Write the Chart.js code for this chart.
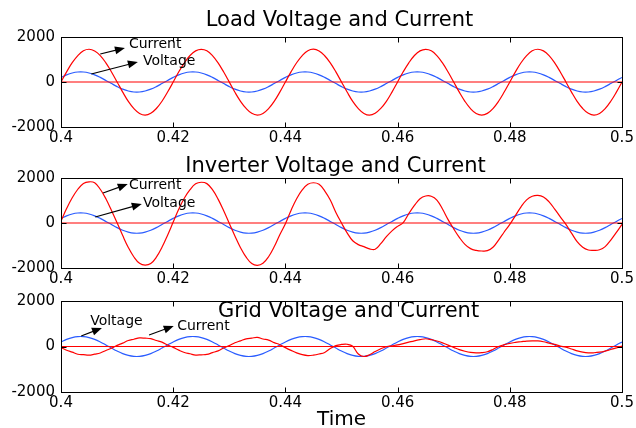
<!DOCTYPE html>
<html>
<head>
<meta charset="utf-8">
<script src="https://cdn.jsdelivr.net/npm/chart.js@4.4.1/dist/chart.umd.min.js"></script>
<style>
  body { margin: 0; background: #fff; overflow: hidden; }
  canvas { position: absolute; left: 0; }
</style>
</head>
<body>
<canvas id="load" width="636" height="150" style="top:0px"></canvas>
<canvas id="inverter" width="636" height="142" style="top:150px"></canvas>
<canvas id="grid" width="636" height="136" style="top:292px"></canvas>
<script>
// sample times, 1 ms apart from 0.4 s to 0.5 s
var time = [];
for (var i = 0; i <= 100; i++) time.push(+(0.4 + i * 0.001).toFixed(3));

var xTicks = [0.4, 0.42, 0.44, 0.46, 0.48, 0.5];
var yTicks = [-2000, 0, 2000];
var zeroTimes = [0.4, 0.5];
var zeroValues = [0, 0];

var loadCurrent = [
  0, 452, 858, 1172, 1386, 1455, 1380, 1176, 851, 447, 3, -450, -862, -1183, -1398, -1472, -1392, -1178, -856, -446,
  -2, 455, 853, 1178, 1383, 1451, 1386, 1170, 849, 442, -4, -455, -858, -1176, -1393, -1468, -1397, -1183, -861, -452,
  1, 449, 856, 1174, 1389, 1458, 1382, 1168, 854, 449, 2, -447, -864, -1181, -1396, -1475, -1390, -1176, -858, -449,
  3, 453, 851, 1177, 1384, 1453, 1388, 1173, 847, 444, -3, -452, -859, -1185, -1399, -1469, -1394, -1180, -855, -447,
  -1, 451, 857, 1171, 1387, 1456, 1383, 1175, 852, 446, 1, -449, -861, -1179, -1392, -1473, -1396, -1182, -857, -450,
  0];
var loadVoltage = [
  204, 318, 401, 445, 445, 401, 318, 204, 70, -70, -204, -318, -401, -445, -445, -401, -318, -204, -70, 70,
  204, 318, 401, 445, 445, 401, 318, 204, 70, -70, -204, -318, -401, -445, -445, -401, -318, -204, -70, 70,
  204, 318, 401, 445, 445, 401, 318, 204, 70, -70, -204, -318, -401, -445, -445, -401, -318, -204, -70, 70,
  204, 318, 401, 445, 445, 401, 318, 204, 70, -70, -204, -318, -401, -445, -445, -401, -318, -204, -70, 70,
  204, 318, 401, 445, 445, 401, 318, 204, 70, -70, -204, -318, -401, -445, -445, -401, -318, -204, -70, 70,
  204];

var inverterCurrent = [
  90, 640, 1120, 1500, 1760, 1830, 1790, 1500, 1080, 560, 10, -560, -1090, -1510, -1790, -1870, -1800, -1520, -1080, -540,
  40, 620, 1110, 1480, 1740, 1810, 1750, 1480, 1060, 540, -20, -580, -1100, -1520, -1800, -1880, -1790, -1500, -1060, -520,
  -30, 560, 1080, 1470, 1720, 1790, 1720, 1430, 1020, 470, 0, -440, -790, -960, -1050, -1150, -1170, -920, -610, -350,
  -150, 20, 420, 780, 1080, 1200, 1190, 1020, 620, 150, -260, -640, -950, -1140, -1220, -1245, -1230, -1080, -760, -400,
  -60, 330, 720, 1030, 1190, 1230, 1160, 940, 620, 270, -60, -450, -830, -1080, -1200, -1215, -1190, -1050, -760, -420,
  -60];
var inverterVoltage = [
  204, 318, 401, 444, 444, 401, 318, 204, 70, -70, -206, -320, -404, -450, -450, -404, -320, -206, -70, 70,
  204, 318, 401, 444, 444, 401, 318, 204, 70, -70, -206, -320, -404, -450, -450, -404, -320, -206, -70, 70,
  204, 318, 401, 444, 444, 401, 318, 204, 70, -70, -206, -320, -404, -450, -450, -404, -320, -206, -70, 70,
  204, 318, 401, 444, 444, 401, 318, 204, 70, -70, -206, -320, -404, -450, -450, -404, -320, -206, -70, 70,
  204, 318, 401, 444, 444, 401, 318, 204, 70, -70, -206, -320, -404, -450, -450, -404, -320, -206, -70, 70,
  204];

var gridCurrent = [
  -46, -165, -250, -340, -360, -380, -335, -285, -175, -80, 50, 150, 265, 320, 375, 365, 345, 265, 190, 65,
  -40, -160, -262, -320, -375, -365, -350, -270, -190, -65, 40, 165, 250, 335, 370, 400, 330, 280, 170, 80,
  -50, -170, -280, -360, -400, -380, -330, -260, -90, 40, 90, 100, 10, -330, -440, -360, -220, -100, -10, 30,
  70, 130, 190, 250, 300, 340, 300, 240, 160, 60, -40, -140, -210, -260, -280, -270, -230, -130, 0, 80,
  140, 180, 210, 240, 250, 245, 210, 150, 90, 20, -30, -110, -190, -250, -280, -275, -250, -200, -130, -60,
  20];
var gridVoltage = [
  199, 311, 392, 435, 435, 392, 311, 199, 68, -68, -199, -311, -392, -435, -435, -392, -311, -199, -68, 68,
  199, 311, 392, 435, 435, 392, 311, 199, 68, -68, -199, -311, -392, -435, -435, -392, -311, -199, -68, 68,
  199, 311, 392, 435, 435, 392, 311, 199, 68, -68, -199, -311, -392, -435, -435, -392, -311, -199, -68, 68,
  199, 311, 392, 435, 435, 392, 311, 199, 68, -68, -199, -311, -392, -435, -435, -392, -311, -199, -68, 68,
  199, 311, 392, 435, 435, 392, 311, 199, 68, -68, -199, -311, -392, -435, -435, -392, -311, -199, -68, 68,
  199];

var FONT = "'DejaVu Sans', sans-serif";
Chart.defaults.font.family = FONT;

var pairs = (xs, ys) => xs.map((t, k) => ({ x: t, y: ys[k] }));

var drawArrow = (ctx, x1, y1, x2, y2) => {
  var ang = Math.atan2(y2 - y1, x2 - x1);
  ctx.beginPath();
  ctx.moveTo(x1, y1);
  ctx.lineTo(x2 - 6 * Math.cos(ang), y2 - 6 * Math.sin(ang));
  ctx.stroke();
  ctx.beginPath();
  ctx.moveTo(x2, y2);
  ctx.lineTo(x2 - 10 * Math.cos(ang) + 4 * Math.sin(ang), y2 - 10 * Math.sin(ang) - 4 * Math.cos(ang));
  ctx.lineTo(x2 - 10 * Math.cos(ang) - 4 * Math.sin(ang), y2 - 10 * Math.sin(ang) + 4 * Math.cos(ang));
  ctx.closePath();
  ctx.fill();
};

// matlab style box, inward ticks, title and arrow notes
var frame = {
  id: 'frame',
  afterDatasetsDraw(chart, args, o) {
    var ctx = chart.ctx, a = chart.chartArea, x = chart.scales.x, y = chart.scales.y;
    ctx.save();
    ctx.strokeStyle = '#000';
    ctx.fillStyle = '#000';
    ctx.lineWidth = 1;
    var L = Math.round(a.left) + 0.5, T = Math.round(a.top) + 0.5;
    var R = Math.round(a.right) + 0.5, B = Math.round(a.bottom) + 0.5;
    ctx.strokeRect(L, T, R - L, B - T);
    ctx.beginPath();
    xTicks.forEach(v => {
      var px = Math.round(x.getPixelForValue(v)) + 0.5;
      ctx.moveTo(px, T); ctx.lineTo(px, T + 5);
      ctx.moveTo(px, B); ctx.lineTo(px, B - 5);
    });
    yTicks.forEach(v => {
      var py = Math.round(y.getPixelForValue(v)) + 0.5;
      ctx.moveTo(L, py); ctx.lineTo(L + 5, py);
      ctx.moveTo(R, py); ctx.lineTo(R - 5, py);
    });
    ctx.stroke();

    ctx.font = '21px ' + FONT;
    ctx.textAlign = 'center';
    ctx.textBaseline = 'alphabetic';
    ctx.fillText(o.title, (a.left + a.right) / 2 + o.titleDx, a.top + o.titleDy);

    ctx.font = '14px ' + FONT;
    ctx.textAlign = 'left';
    ctx.textBaseline = 'middle';
    ctx.lineWidth = 1.2;
    o.notes.forEach(n => {
      ctx.fillText(n.text, x.getPixelForValue(n.at[0]), y.getPixelForValue(n.at[1]));
      drawArrow(ctx, x.getPixelForValue(n.from[0]), y.getPixelForValue(n.from[1]),
                     x.getPixelForValue(n.to[0]), y.getPixelForValue(n.to[1]));
    });
    ctx.restore();
  }
};

var makePanel = (id, current, voltage, p) => {
  return new Chart(id, {
    type: 'line',
    data: {
      datasets: [
        { data: pairs(time, current), borderColor: '#ff0000', borderWidth: 1.2, pointRadius: 0, tension: 0.4 },
        { data: pairs(zeroTimes, zeroValues), borderColor: '#ff0000', borderWidth: 1.2, pointRadius: 0 },
        { data: pairs(time, voltage), borderColor: '#2a5cff', borderWidth: 1.2, pointRadius: 0, tension: 0.4 }
      ]
    },
    plugins: [frame],
    options: {
      responsive: false,
      animation: false,
      events: [],
      layout: { padding: { left: 0, right: 14, top: p.padTop, bottom: 0 } },
      plugins: {
        legend: { display: false },
        tooltip: { enabled: false },
        frame: { title: p.title, titleDx: p.titleDx, titleDy: p.titleDy, notes: p.notes }
      },
      scales: {
        x: {
          type: 'linear', min: 0.4, max: 0.5,
          afterBuildTicks: s => { s.ticks = xTicks.map(v => ({ value: v })); },
          afterFit: s => { s.height = p.axisH; s.paddingLeft = 0; s.paddingRight = 0; },
          grid: { display: false, drawTicks: false },
          border: { display: false },
          ticks: { color: '#000', font: { size: 15 }, padding: 2, maxRotation: 0, autoSkip: false, callback: v => String(v) },
          title: { display: !!p.xTitle, text: p.xTitle || '', color: '#000', font: { size: 20, lineHeight: 0.8 }, padding: 0 }
        },
        y: {
          type: 'linear', min: -2000, max: 2000,
          afterBuildTicks: s => { s.ticks = yTicks.map(v => ({ value: v })); },
          afterFit: s => { s.width = 61; s.paddingTop = 0; s.paddingBottom = 0; },
          grid: { display: false, drawTicks: false },
          border: { display: false },
          ticks: { color: '#000', font: { size: 15 }, padding: 6, autoSkip: false, callback: v => String(v) }
        }
      }
    }
  });
};

makePanel('load', loadCurrent, loadVoltage, {
  padTop: 37, axisH: 23, title: 'Load Voltage and Current', titleDx: -2, titleDy: -11,
  notes: [
    { text: 'Current', at: [0.4121, 1690], from: [0.4070, 1244], to: [0.4114, 1511] },
    { text: 'Voltage', at: [0.4146, 930], from: [0.4054, 356], to: [0.4137, 889] }
  ]
});
makePanel('inverter', inverterCurrent, inverterVoltage, {
  padTop: 28, axisH: 24, title: 'Inverter Voltage and Current', titleDx: -6, titleDy: -6,
  notes: [
    { text: 'Current', at: [0.4121, 1690], from: [0.4075, 1333], to: [0.4119, 1733] },
    { text: 'Voltage', at: [0.4146, 889], from: [0.4061, 267], to: [0.4144, 844] }
  ]
});
makePanel('grid', gridCurrent, gridVoltage, {
  padTop: 9, axisH: 36, title: 'Grid Voltage and Current', titleDx: 7, titleDy: 16, xTitle: 'Time',
  notes: [
    { text: 'Voltage', at: [0.4052, 1121], from: [0.4036, 462], to: [0.4073, 813] },
    { text: 'Current', at: [0.4207, 901], from: [0.4157, 505], to: [0.4201, 901] }
  ]
});
</script>
</body>
</html>
